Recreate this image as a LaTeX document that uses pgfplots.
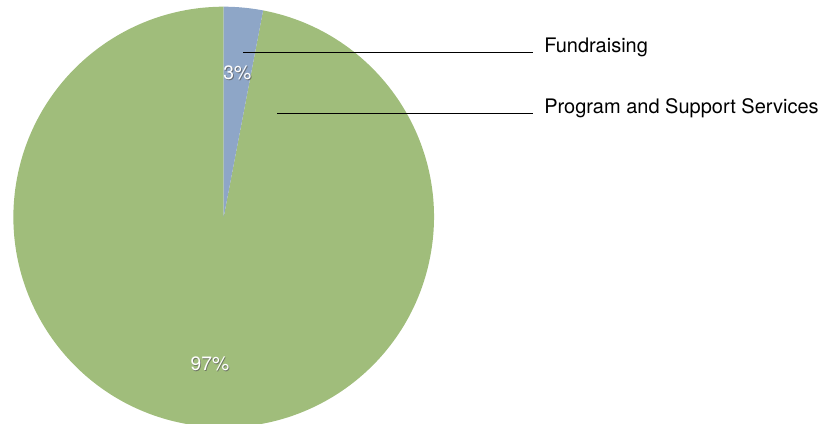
\documentclass[border=0pt]{standalone}
\usepackage{pgfplots}
\pgfplotsset{compat=1.18}
\usepackage{pgfplotstable}
\usepackage{fontspec}
\setmainfont{TeX Gyre Heros}

\definecolor{piegreen}{RGB}{160,189,123}
\definecolor{pieblue}{RGB}{142,166,199}

% shares in percent, clockwise from 12 o'clock
\pgfplotstableread[col sep=comma]{
name,share
Fundraising,3
Program and Support Services,97
}\piedata

\begin{document}
\begin{tikzpicture}
\pgfplotstablegetelem{0}{share}\of\piedata \let\sA\pgfplotsretval
\pgfplotstablegetelem{1}{share}\of\piedata \let\sB\pgfplotsretval
\pgfplotstablegetelem{0}{name}\of\piedata \let\nA\pgfplotsretval
\pgfplotstablegetelem{1}{name}\of\piedata \let\nB\pgfplotsretval
\pgfmathsetmacro\aA{90-3.6*\sA}
\pgfmathsetmacro\aB{\aA-3.6*\sB}
\pgfmathsetmacro\mA{90-1.8*\sA}
\pgfmathsetmacro\mB{\aA-1.8*\sB}
\begin{scope}
\clip (0pt,0pt) rectangle (628.5pt,318pt);
\begin{axis}[
  at={(167.775pt,155.25pt)}, anchor=center,
  scale only axis, width=315.45pt, height=315.45pt,
  xmin=-1, xmax=1, ymin=-1, ymax=1,
  hide axis, clip=false,
]
\fill[piegreen] (axis cs:0,0) -- (axis cs:{cos(\aA)},{sin(\aA)})
  arc[start angle=\aA, end angle=\aB, radius=157.725pt] -- cycle;
\fill[pieblue] (axis cs:0,0) -- (axis cs:0,1)
  arc[start angle=90, end angle=\aA, radius=157.725pt] -- cycle;

\node[text=black!65, opacity=0.7, font=\fontsize{14.5}{17}\selectfont, xshift=0.7pt, yshift=-0.7pt]
  at (axis cs:{0.69*cos(\mA)},{0.69*sin(\mA)}) {\sA\%};
\node[text=white, font=\fontsize{14.5}{17}\selectfont]
  at (axis cs:{0.69*cos(\mA)},{0.69*sin(\mA)}) {\sA\%};
\node[text=black!65, opacity=0.7, font=\fontsize{14.5}{17}\selectfont, xshift=0.7pt, yshift=-0.7pt]
  at (axis cs:{0.70*cos(\mB)},{0.70*sin(\mB)}) {\sB\%};
\node[text=white, font=\fontsize{14.5}{17}\selectfont]
  at (axis cs:{0.70*cos(\mB)},{0.70*sin(\mB)}) {\sB\%};
\end{axis}
\end{scope}

% leader lines and slice names
\draw[line width=0.75pt] (182.25pt,278.625pt) -- (399.75pt,278.625pt);
\draw[line width=0.75pt] (207.75pt,233.1pt) -- (399.75pt,233.1pt);
\node[anchor=base west, inner sep=0pt, font=\fontsize{15}{18}\selectfont] at (408pt,278.475pt) {\nA};
\node[anchor=base west, inner sep=0pt, font=\fontsize{15}{18}\selectfont] at (408pt,233.025pt) {\nB};

\pgfresetboundingbox
\useasboundingbox (0pt,0pt) rectangle (628.5pt,318pt);
\end{tikzpicture}
\end{document}
